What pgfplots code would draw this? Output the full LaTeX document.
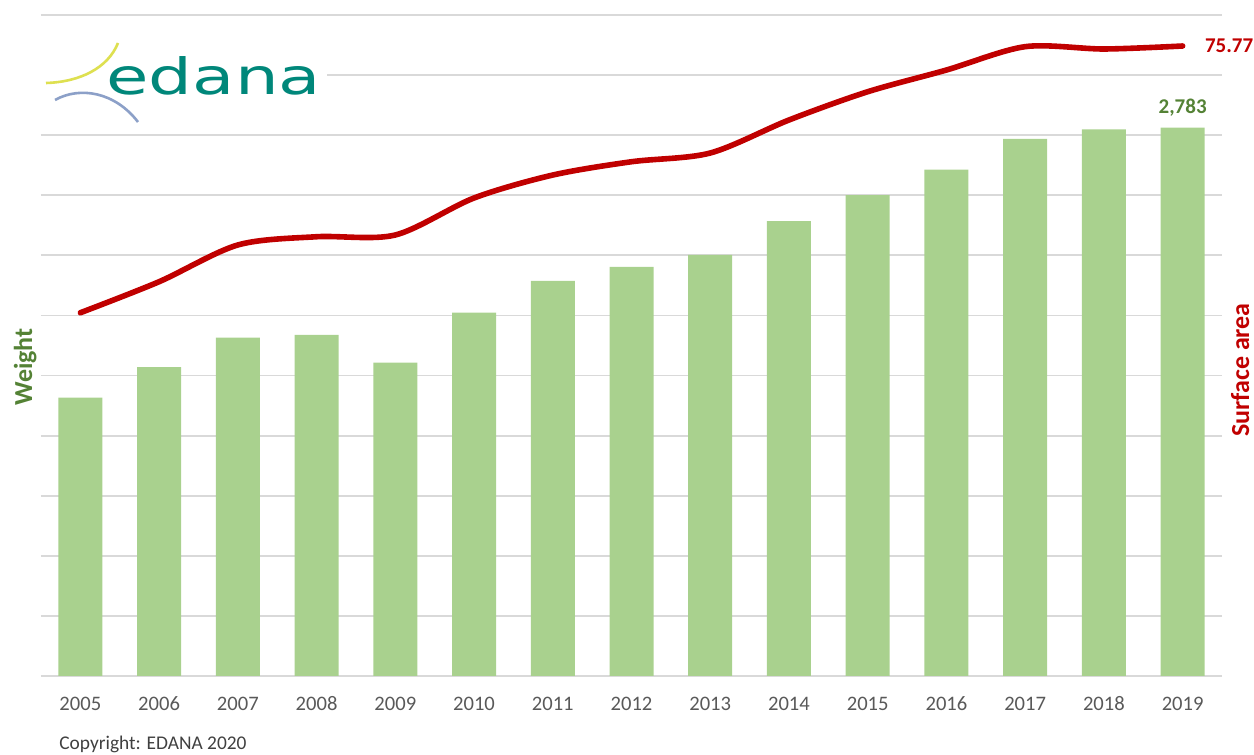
\documentclass[border=0pt]{standalone}
\usepackage{fontspec}
\setmainfont{Carlito}
\newfontfamily\logofont{DejaVu Sans}
\usepackage{pgfplots}
\pgfplotsset{compat=1.18}

\definecolor{barGreen}{RGB}{169,209,142}
\definecolor{lineRed}{RGB}{192,0,0}
\definecolor{labGreen}{RGB}{84,130,53}
\definecolor{gridGray}{RGB}{217,217,217}
\definecolor{tickGray}{RGB}{89,89,89}
\definecolor{copyGray}{RGB}{64,64,64}
\definecolor{edanaTeal}{RGB}{0,135,122}
\definecolor{arcYellow}{RGB}{222,224,80}
\definecolor{arcBlue}{RGB}{140,160,200}

\pgfplotsset{
  base/.style={
    scale only axis,
    width=590.5pt, height=330.5pt,
    at={(20.5pt,39.5pt)}, anchor=south west,
    xmin=-0.5, xmax=14.5,
    axis line style={draw=none},
    tick style={draw=none},
    clip=false,
  },
}

\begin{document}
\begin{tikzpicture}
  \path[use as bounding box] (0,0) rectangle (627pt,377.5pt);

  % weight (bars), left axis
  \begin{axis}[
      base,
      ymin=0, ymax=3355,
      ytick={0,305,610,915,1220,1525,1830,2135,2440,2745,3050,3355},
      yticklabels={},
      ymajorgrids,
      grid style={gridGray, line width=0.9pt},
      xtick={0,...,14},
      xticklabels={2005,2006,2007,2008,2009,2010,2011,2012,2013,2014,2015,2016,2017,2018,2019},
      xticklabel style={font=\fontsize{10.3}{12}\selectfont, text=tickGray,
                        text height=6.6pt, text depth=0pt, yshift=-7pt},
    ]
    \addplot[ybar, bar width=22pt, fill=barGreen, draw=none]
      coordinates {
        (0, 1413) (1, 1568) (2, 1717) (3, 1731) (4, 1590)
        (5, 1844) (6, 2005) (7, 2076) (8, 2137) (9, 2309)
        (10,2441) (11,2570) (12,2726) (13,2775) (14,2783)
      };
    \node[anchor=base, yshift=7.3pt, text=labGreen,
          font=\bfseries\fontsize{10.5}{12}\selectfont]
      at (axis cs:14,2783) {2,783};
  \end{axis}

  % surface area (line), right axis
  \begin{axis}[
      base,
      ymin=0, ymax=79.5,
      ytick=\empty, xtick=\empty,
    ]
    \addplot[smooth, lineRed, line width=2.8pt, line cap=round]
      coordinates {
        (0, 43.69) (1, 47.42) (2, 51.84) (3, 52.83) (4, 53.04)
        (5, 57.49) (6, 60.25) (7, 61.85) (8, 62.90) (9, 66.87)
        (10,70.27) (11,72.88) (12,75.69) (13,75.41) (14,75.77)
      };
    \node[anchor=base west, inner sep=0, xshift=11pt, yshift=-3.5pt,
          text=lineRed, font=\bfseries\fontsize{10.5}{12}\selectfont]
      at (axis cs:14,75.77) {75.77};
  \end{axis}

  % logo, axis titles, copyright (pixel coordinates from top left)
  \begin{scope}[x=0.5pt, y=-0.5pt, yshift=377.5pt]
    \fill[white] (38,21) rectangle (327,129);
    \draw[arcYellow, line width=1.3pt] (118,43) .. controls (108,68) and (80,82) .. (46,83);
    \draw[arcBlue, line width=1.3pt] (55,100) .. controls (80,86) and (115,92) .. (138,122);
    \node[anchor=base west, inner sep=0, xscale=1.38, text=edanaTeal,
          font=\logofont\fontsize{25}{25}\selectfont] at (106,95) {edana};

    \node[anchor=base, rotate=90, inner sep=0, text=labGreen,
          font=\bfseries\fontsize{13}{14}\selectfont] at (32,367) {Weight};
    \node[anchor=base, rotate=90, inner sep=0, text=lineRed,
          font=\bfseries\fontsize{13}{14}\selectfont] at (1249,370) {Surface area};

    \node[anchor=base west, inner sep=0, text=copyGray,
          font=\fontsize{9.7}{11}\selectfont] at (59,750) {Copyright: EDANA 2020};
  \end{scope}
\end{tikzpicture}
\end{document}
